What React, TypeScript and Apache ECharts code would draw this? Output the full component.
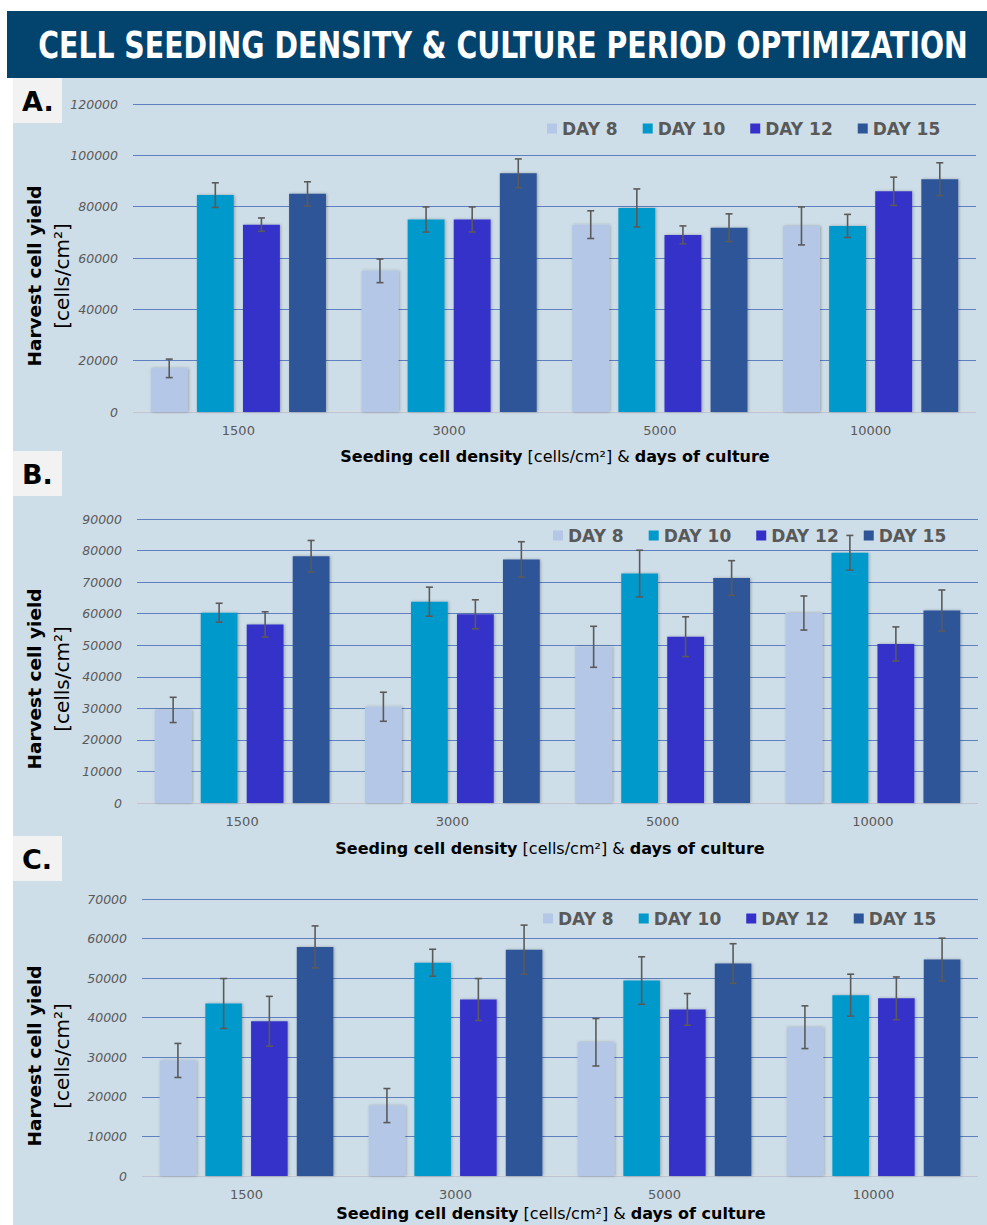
import React, { useEffect, useRef } from "react";
import * as echarts from "echarts";

const TITLE = "CELL SEEDING DENSITY & CULTURE PERIOD OPTIMIZATION";
const categories = ["1500", "3000", "5000", "10000"];
const days = ["DAY 8", "DAY 10", "DAY 12", "DAY 15"];
const dayColors = ["#B4C7E7", "#0099CC", "#3430C9", "#2E5597"];
const panelLabels = ["A.", "B.", "C."];
const yMax = [120000, 90000, 70000];
const yInterval = [20000, 10000, 10000];

// Panel A
const aDay8 = [17000, 55000, 73000, 72500];
const aDay8Err = [3600, 4600, 5400, 7400];
const aDay10 = [84500, 75000, 79500, 72500];
const aDay10Err = [4800, 4900, 7400, 4500];
const aDay12 = [73000, 75000, 69000, 86000];
const aDay12Err = [2600, 4900, 3500, 5500];
const aDay15 = [85000, 93000, 71800, 90700];
const aDay15Err = [4700, 5600, 5400, 6400];

// Panel B
const bDay8 = [29500, 30500, 49500, 60200];
const bDay8Err = [4000, 4600, 6500, 5400];
const bDay10 = [60300, 63800, 72700, 79300];
const bDay10Err = [3000, 4600, 7400, 5500];
const bDay12 = [56600, 59800, 52700, 50400];
const bDay12Err = [4000, 4600, 6300, 5400];
const bDay15 = [78200, 77200, 71300, 61000];
const bDay15Err = [5000, 5600, 5500, 6500];

// Panel C
const cDay8 = [29200, 17800, 33800, 37600];
const cDay8Err = [4300, 4300, 6000, 5400];
const cDay10 = [43600, 53900, 49400, 45700];
const cDay10Err = [6300, 3400, 6000, 5300];
const cDay12 = [39100, 44600, 42100, 44900];
const cDay12Err = [6300, 5300, 4000, 5400];
const cDay15 = [57900, 57200, 53700, 54700];
const cDay15Err = [5300, 6200, 5000, 5400];

const panelValues = [
  [aDay8, aDay10, aDay12, aDay15],
  [bDay8, bDay10, bDay12, bDay15],
  [cDay8, cDay10, cDay12, cDay15],
];
const panelErrors = [
  [aDay8Err, aDay10Err, aDay12Err, aDay15Err],
  [bDay8Err, bDay10Err, bDay12Err, bDay15Err],
  [cDay8Err, cDay10Err, cDay12Err, cDay15Err],
];

// layout (pixels)
const grids = [
  { left: 133, top: 104, width: 843, height: 308 },
  { left: 137, top: 519, width: 841, height: 284 },
  { left: 142, top: 899, width: 836, height: 277 },
];
const labelBoxTop = [78, 451, 836];
const legendPos = [
  { left: 547, top: 120 },
  { left: 553, top: 527 },
  { left: 543, top: 910 },
];
const xNamePos = [
  { x: 555, y: 456 },
  { x: 550, y: 848 },
  { x: 551, y: 1213 },
];
const yNameCenterY = [276, 679, 1056];

const BAR_W = 0.175;
const BAR_GAP = 0.25;
const FONT = '"DejaVu Sans", "Noto Sans", sans-serif';
const TITLE_FONT = '"DejaVu Sans Condensed", "Liberation Sans Narrow", "DejaVu Sans", sans-serif';

export default function App() {
  const ref = useRef<HTMLDivElement>(null);
  useEffect(() => {
    document.body.style.margin = "0";
    const chart = echarts.init(ref.current!, null, { renderer: "svg" });

    // measure the title to fit the banner width
    let titleScale = 1;
    try {
      const ctx = document.createElement("canvas").getContext("2d")!;
      ctx.font = `bold 37px ${TITLE_FONT}`;
      const w = ctx.measureText(TITLE).width;
      if (w > 0) titleScale = 930 / w;
    } catch (e) {}

    const series: any[] = [];
    panelValues.forEach((vals, p) => {
      vals.forEach((arr, d) => {
        series.push({
          type: "bar",
          name: days[d],
          xAxisIndex: p,
          yAxisIndex: p,
          data: arr,
          barWidth: BAR_W * 100 + "%",
          barGap: BAR_GAP * 100 + "%",
          itemStyle: {
            color: dayColors[d],
            shadowBlur: 3,
            shadowColor: "rgba(0,0,0,0.28)",
            shadowOffsetX: 1,
            shadowOffsetY: 0,
          },
          z: 2,
        });
      });
      vals.forEach((arr, d) => {
        const errs = panelErrors[p][d];
        series.push({
          type: "custom",
          name: days[d] + " err",
          xAxisIndex: p,
          yAxisIndex: p,
          z: 5,
          silent: true,
          encode: { x: 0, y: 1 },
          data: arr.map((v, i) => [i, v, errs[i]]),
          renderItem: (params: any, api: any) => {
            const xi = api.value(0);
            const v = api.value(1);
            const e = api.value(2);
            const c = api.coord([xi, v]);
            const band = api.size([1, 0])[0];
            const bw = band * BAR_W;
            const gap = bw * BAR_GAP;
            const total = 4 * bw + 3 * gap;
            const x = c[0] - total / 2 + d * (bw + gap) + bw / 2;
            const yt = api.coord([xi, v + e])[1];
            const yb = api.coord([xi, v - e])[1];
            const cap = 3.5;
            const st = { stroke: "#5A5A5A", lineWidth: 1.6 };
            return {
              type: "group",
              children: [
                { type: "line", shape: { x1: x, y1: yt, x2: x, y2: yb }, style: st },
                { type: "line", shape: { x1: x - cap, y1: yt, x2: x + cap, y2: yt }, style: st },
                { type: "line", shape: { x1: x - cap, y1: yb, x2: x + cap, y2: yb }, style: st },
              ],
            };
          },
        });
      });
    });

    const graphic: any[] = [
      { type: "rect", z: -10, shape: { x: 13, y: 78, width: 974, height: 1147 }, style: { fill: "#CEDEE8" } },
      { type: "rect", z: -9, shape: { x: 7, y: 11, width: 980, height: 67 }, style: { fill: "#03446F" } },
      {
        type: "text",
        z: 10,
        x: 503,
        y: 45,
        scaleX: titleScale,
        style: {
          text: TITLE,
          fill: "#FFFFFF",
          font: `bold 37px ${TITLE_FONT}`,
          fontFamily: TITLE_FONT,
          fontSize: 37,
          fontWeight: "bold",
          align: "center",
          verticalAlign: "middle",
        },
      },
    ];
    panelLabels.forEach((lab, p) => {
      graphic.push({
        type: "rect",
        z: -8,
        shape: { x: 13, y: labelBoxTop[p], width: 49, height: 45 },
        style: { fill: "#F2F2F2" },
      });
      graphic.push({
        type: "text",
        z: 10,
        x: 22,
        y: labelBoxTop[p] + 23,
        style: {
          text: lab,
          fill: "#000000",
          fontFamily: FONT,
          fontSize: 27,
          fontWeight: "bold",
          align: "left",
          verticalAlign: "middle",
        },
      });
      graphic.push({
        type: "text",
        z: 10,
        x: xNamePos[p].x,
        y: xNamePos[p].y,
        style: {
          text: "{b|Seeding cell density} {r|[cells/cm²] &} {b|days of culture}",
          align: "center",
          verticalAlign: "middle",
          fontFamily: FONT,
          fontSize: 16,
          fill: "#000000",
          rich: {
            b: { fontWeight: "bold", fontSize: 16, fontFamily: FONT, fill: "#000000", color: "#000000" },
            r: { fontWeight: "normal", fontSize: 16, fontFamily: FONT, fill: "#000000", color: "#000000" },
          },
        },
      });
      graphic.push({
        type: "text",
        z: 10,
        x: 34,
        y: yNameCenterY[p],
        rotation: Math.PI / 2,
        style: {
          text: "Harvest cell yield",
          fill: "#000000",
          fontFamily: FONT,
          fontSize: 18.5,
          fontWeight: "bold",
          align: "center",
          verticalAlign: "middle",
        },
      });
      graphic.push({
        type: "text",
        z: 10,
        x: 62,
        y: yNameCenterY[p],
        rotation: Math.PI / 2,
        style: {
          text: "[cells/cm²]",
          fill: "#000000",
          fontFamily: FONT,
          fontSize: 20,
          fontWeight: "normal",
          align: "center",
          verticalAlign: "middle",
        },
      });
    });

    const option: any = {
      animation: false,
      backgroundColor: "#FFFFFF",
      grid: grids.map((g) => ({ ...g, containLabel: false })),
      legend: legendPos.map((lp) => ({
        left: lp.left,
        top: lp.top,
        padding: 0,
        itemWidth: 10,
        itemHeight: 10,
        itemGap: 25,
        icon: "rect",
        data: days,
        selectedMode: false,
        textStyle: { color: "#595959", fontSize: 17, fontWeight: "bold", fontFamily: FONT },
      })),
      xAxis: grids.map((_, p) => ({
        type: "category",
        gridIndex: p,
        data: categories,
        axisLine: { show: true, lineStyle: { color: "#DCDCDC", width: 1.5 } },
        axisTick: { show: false },
        axisLabel: { color: "#595959", fontSize: 13, fontFamily: FONT, margin: 12 },
        splitLine: { show: false },
      })),
      yAxis: grids.map((_, p) => ({
        type: "value",
        gridIndex: p,
        min: 0,
        max: yMax[p],
        interval: yInterval[p],
        axisLine: { show: false },
        axisTick: { show: false },
        axisLabel: {
          color: "#595959",
          fontSize: 12.5,
          fontStyle: "italic",
          fontFamily: FONT,
          margin: 15,
          formatter: (v: number) => String(v),
        },
        splitLine: { show: true, lineStyle: { color: "#5F7FC0", width: 1.2 } },
      })),
      graphic,
      series,
    };
    chart.setOption(option);
    return () => chart.dispose();
  }, []);
  return <div ref={ref} style={{ width: 987, height: 1225 }} />;
}
